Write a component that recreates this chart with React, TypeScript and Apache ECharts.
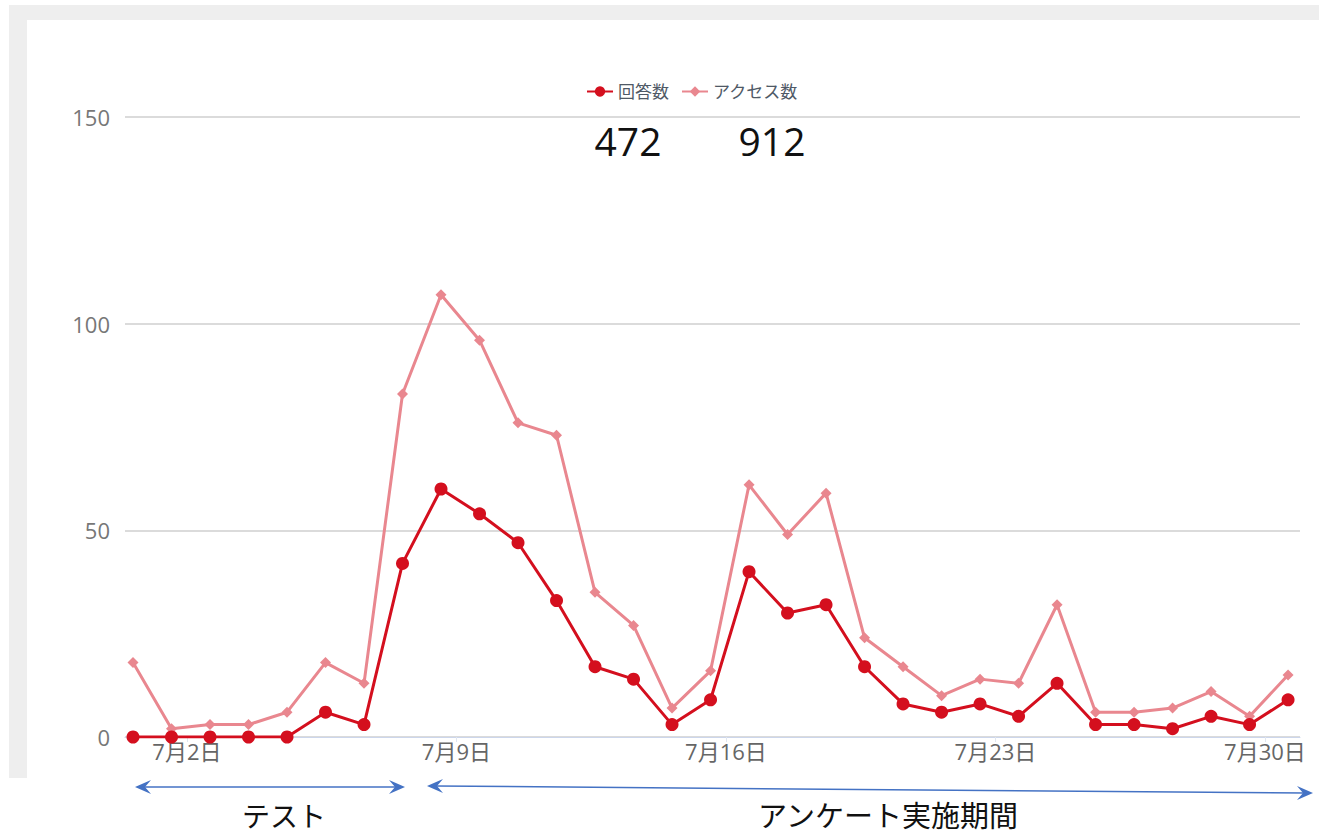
import React, { useEffect, useRef } from "react";
import * as echarts from "echarts";

const days = Array.from({ length: 31 }, (_, i) => i + 1);
const answers = [0, 0, 0, 0, 0, 6, 3, 42, 60, 54, 47, 33, 17, 14, 3, 9, 40, 30, 32, 17, 8, 6, 8, 5, 13, 3, 3, 2, 5, 3, 9];
const access = [18, 2, 3, 3, 6, 18, 13, 83, 107, 96, 76, 73, 35, 27, 7, 16, 61, 49, 59, 24, 17, 10, 14, 13, 32, 6, 6, 7, 11, 5, 15];
const labelDays = [2, 9, 16, 23, 30];
const seriesNames = ["回答数", "アクセス数"];
const totals = ["472", "912"];
const periodLabels = ["テスト", "アンケート実施期間"];

const LABEL_SHIFT = 0.4;
const BLUE = "#4472C4";

function arrowHead(tipX: number, tipY: number, dir: number) {
  const L = 16;
  const W = 7;
  const N = 10;
  return {
    type: "polygon",
    shape: {
      points: [
        [tipX, tipY],
        [tipX - dir * L, tipY - W],
        [tipX - dir * N, tipY],
        [tipX - dir * L, tipY + W],
      ],
    },
    style: { fill: BLUE },
    z: 10,
  };
}

function arrow(x1: number, y1: number, x2: number, y2: number) {
  return [
    {
      type: "line",
      shape: { x1: x1 + 8, y1, x2: x2 - 8, y2 },
      style: { stroke: BLUE, lineWidth: 1.5 },
      z: 10,
    },
    arrowHead(x1, y1, -1),
    arrowHead(x2, y2, 1),
  ];
}

export default function App() {
  const ref = useRef<HTMLDivElement>(null);
  useEffect(() => {
    document.body.style.margin = "0";
    const chart = echarts.init(ref.current!, undefined, { renderer: "svg" });
    const font = "'Open Sans', 'Noto Sans CJK JP', sans-serif";
    const cjk = "'Noto Sans CJK JP', sans-serif";
    chart.setOption({
      animation: false,
      backgroundColor: "#ffffff",
      textStyle: { fontFamily: font },
      legend: {
        data: seriesNames,
        top: 78,
        left: 581,
        itemWidth: 26,
        itemHeight: 13,
        itemGap: 12,
        textStyle: { fontSize: 17, color: "#4f5966", fontFamily: font },
      },
      grid: { left: 125, right: 19, top: 117, bottom: 99, containLabel: false },
      xAxis: {
        type: "value",
        min: 0.792,
        max: 31.31,
        splitLine: { show: false },
        axisLine: { show: true, lineStyle: { color: "#ccd6eb", width: 1 } },
        axisTick: {
          show: true,
          length: 5,
          lineStyle: { color: "#e0e6f0" },
          customValues: labelDays.map((d) => d + LABEL_SHIFT),
        },
        axisLabel: {
          customValues: labelDays.map((d) => d + LABEL_SHIFT),
          formatter: (v: number) => "7月" + Math.round(v - LABEL_SHIFT) + "日",
          color: "#666666",
          fontSize: 22,
          margin: 3,
          fontFamily: font,
        },
      },
      yAxis: {
        type: "value",
        min: 0,
        max: 150,
        interval: 50,
        axisLine: { show: false },
        axisTick: { show: false },
        splitLine: { lineStyle: { color: "#cfcfcf", width: 1.5 } },
        axisLabel: { color: "#777777", fontSize: 22, margin: 15, fontFamily: font },
      },
      graphic: [
        { type: "rect", shape: { x: 9, y: 5, width: 1310, height: 773 }, style: { fill: "#eeeeee" }, z: -10, silent: true },
        { type: "rect", shape: { x: 27, y: 20, width: 1292, height: 758 }, style: { fill: "#ffffff" }, z: -9, silent: true },
        {
          type: "text",
          x: 628,
          y: 140,
          style: { text: totals[0], fontSize: 39, fill: "#111111", align: "center", verticalAlign: "middle", fontFamily: font },
          z: 10,
        },
        {
          type: "text",
          x: 772,
          y: 140,
          style: { text: totals[1], fontSize: 39, fill: "#111111", align: "center", verticalAlign: "middle", fontFamily: font },
          z: 10,
        },
        ...arrow(135, 787, 405, 787),
        ...arrow(427, 786, 1313, 793),
        {
          type: "text",
          x: 284,
          y: 815,
          style: { text: periodLabels[0], fontSize: 28, fill: "#111111", align: "center", verticalAlign: "middle", fontFamily: cjk },
          z: 10,
        },
        {
          type: "text",
          x: 888,
          y: 814,
          style: { text: periodLabels[1], fontSize: 29, fill: "#111111", align: "center", verticalAlign: "middle", fontFamily: cjk },
          z: 10,
        },
      ],
      series: [
        {
          name: seriesNames[0],
          type: "line",
          data: days.map((d, i) => [d, answers[i]]),
          symbol: "circle",
          symbolSize: 13,
          itemStyle: { color: "#d40f1e" },
          lineStyle: { color: "#d40f1e", width: 3 },
          z: 5,
        },
        {
          name: seriesNames[1],
          type: "line",
          data: days.map((d, i) => [d, access[i]]),
          symbol: "diamond",
          symbolSize: 11,
          itemStyle: { color: "#e9878f" },
          lineStyle: { color: "#e9878f", width: 3 },
          z: 4,
        },
      ],
    });
    return () => chart.dispose();
  }, []);
  return <div ref={ref} style={{ width: 1319, height: 836 }} />;
}
